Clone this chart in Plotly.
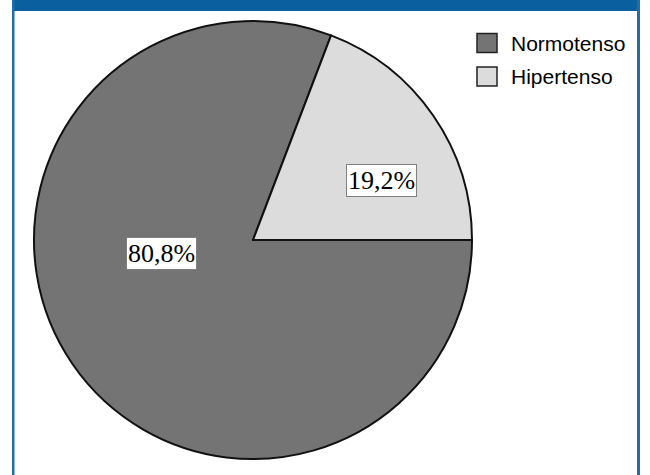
import plotly.graph_objects as go

# ---- data ----
labels = ["Normotenso", "Hipertenso"]
values = [80.8, 19.2]
colors = ["#747474", "#dcdcdc"]

W, H = 650, 475

fig = go.Figure()

# pie geometry (pixels): centre (253, 240), radius 219
cx, cy, r = 253, 240, 219
fig.add_trace(go.Pie(
    labels=labels,
    values=values,
    sort=False,
    direction="clockwise",
    rotation=90,
    marker=dict(colors=colors, line=dict(color="#111111", width=2)),
    textinfo="none",
    hoverinfo="label+percent",
    showlegend=False,
    domain=dict(x=[(cx - r) / W, (cx + r) / W],
                y=[(H - cy - r) / H, (H - cy + r) / H]),
))

# frame
shapes = [
    dict(type="rect", xref="paper", yref="paper", x0=12 / W, x1=640 / W,
         y0=1 - 11 / H, y1=1, fillcolor="#0a5f9e", line=dict(width=0), layer="above"),
    dict(type="rect", xref="paper", yref="paper", x0=12 / W, x1=14.5 / W,
         y0=0, y1=1, fillcolor="#1c6fae", line=dict(width=0), layer="above"),
    dict(type="rect", xref="paper", yref="paper", x0=637 / W, x1=640 / W,
         y0=0, y1=1, fillcolor="#1c6fae", line=dict(width=0), layer="above"),
]

annotations = []
# legend (custom, squares + text)
leg_y = [43, 76.5]
for lab, col, ly in zip(labels, colors, leg_y):
    shapes.append(dict(type="rect", xref="paper", yref="paper",
                       x0=477 / W, x1=497 / W,
                       y0=1 - (ly + 9.5) / H, y1=1 - (ly - 9.5) / H,
                       fillcolor=col, line=dict(color="#222222", width=1.5),
                       layer="above"))
    annotations.append(dict(xref="paper", yref="paper", x=509 / W, y=1 - ly / H,
                            text=lab, showarrow=False, xanchor="left", yanchor="middle",
                            font=dict(family="Liberation Sans, Arial", size=21, color="#000000")))

# percentage labels in boxes
label_pos = [(161.5, 253), (381.5, 180.5)]
for v, (lx, ly) in zip(values, label_pos):
    txt = f"{v:.1f}%".replace(".", ",")
    annotations.append(dict(xref="paper", yref="paper", x=lx / W, y=1 - ly / H,
                            text=txt, showarrow=False, xanchor="center", yanchor="middle",
                            bgcolor="#ffffff", bordercolor="#808080", borderwidth=1,
                            borderpad=1,
                            font=dict(family="Liberation Serif, Times New Roman", size=26,
                                      color="#000000")))

fig.update_layout(
    width=W, height=H,
    margin=dict(l=0, r=0, t=0, b=0),
    paper_bgcolor="#ffffff",
    shapes=shapes,
    annotations=annotations,
    showlegend=False,
)

fig.write_html("out.html",
               config={"displayModeBar": False},
               post_script="document.body.style.margin='0';document.body.style.overflow='hidden';")
